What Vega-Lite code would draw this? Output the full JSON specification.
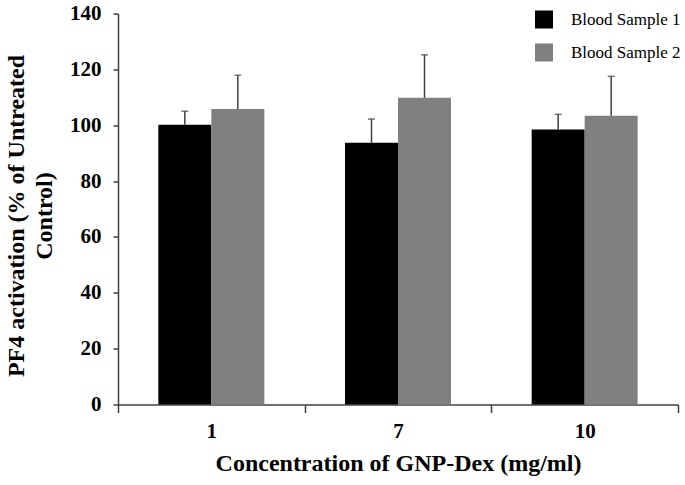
{
  "$schema": "https://vega.github.io/schema/vega-lite/v6.json",
  "width": 560,
  "height": 391,
  "autosize": "none",
  "padding": {"left": 118, "top": 13.5, "right": 7, "bottom": 80.5},
  "background": "white",
  "config": {
    "view": {"stroke": null},
    "font": "Liberation Serif",
    "axis": {"grid": false, "domainColor": "#404040", "tickColor": "#404040", "domainWidth": 1.5, "tickWidth": 1.5, "labelColor": "black", "titleColor": "black", "labelFont": "Liberation Serif", "titleFont": "Liberation Serif", "labelFontWeight": "bold", "titleFontWeight": "bold"}
  },
  "data": {
    "values": [
      {"conc": "1", "sample": "Blood Sample 1", "value": 100.2, "upper": 105.0},
      {"conc": "1", "sample": "Blood Sample 2", "value": 105.8, "upper": 117.9},
      {"conc": "7", "sample": "Blood Sample 1", "value": 93.7, "upper": 102.2},
      {"conc": "7", "sample": "Blood Sample 2", "value": 109.8, "upper": 125.2},
      {"conc": "10", "sample": "Blood Sample 1", "value": 98.5, "upper": 103.9},
      {"conc": "10", "sample": "Blood Sample 2", "value": 103.4, "upper": 117.5}
    ]
  },
  "encoding": {
    "x": {
      "field": "conc", "type": "nominal", "sort": ["1", "7", "10"],
      "scale": {"paddingInner": 0, "paddingOuter": 0},
      "axis": {"title": "Concentration of GNP-Dex (mg/ml)", "labelAngle": 0, "labelFontSize": 21, "titleFontSize": 24, "tickBand": "extent", "tickSize": 8, "labelPadding": 8, "titlePadding": 10}
    },
    "xOffset": {"field": "sample", "type": "nominal", "scale": {"paddingInner": 0, "paddingOuter": 0.761}}
  },
  "layer": [
    {
      "mark": {"type": "bar"},
      "encoding": {
        "y": {
          "field": "value", "type": "quantitative",
          "scale": {"domain": [0, 140], "nice": false},
          "axis": {"title": ["PF4 activation (% of Untreated", "Control)"], "values": [0, 20, 40, 60, 80, 100, 120, 140], "labelFontSize": 21, "titleFontSize": 24, "titleLineHeight": 28, "tickSize": 5, "labelPadding": 12, "titlePadding": 13, "titleY": 202}
        },
        "color": {
          "field": "sample", "type": "nominal",
          "scale": {"domain": ["Blood Sample 1", "Blood Sample 2"], "range": ["#000000", "#808080"]},
          "legend": {"title": null, "orient": "none", "legendX": 417, "legendY": -3, "symbolType": "square", "symbolSize": 324, "symbolStrokeWidth": 0, "symbolOpacity": 1, "labelFont": "Liberation Serif", "labelFontSize": 17, "labelColor": "black", "labelOffset": 18, "rowPadding": 15}
        }
      }
    },
    {
      "mark": {"type": "rule", "color": "#404040", "strokeWidth": 1.5},
      "encoding": {
        "y": {"field": "value", "type": "quantitative"},
        "y2": {"field": "upper"}
      }
    },
    {
      "mark": {"type": "tick", "color": "#404040", "thickness": 1.5, "size": 7},
      "encoding": {
        "y": {"field": "upper", "type": "quantitative"}
      }
    }
  ]
}
